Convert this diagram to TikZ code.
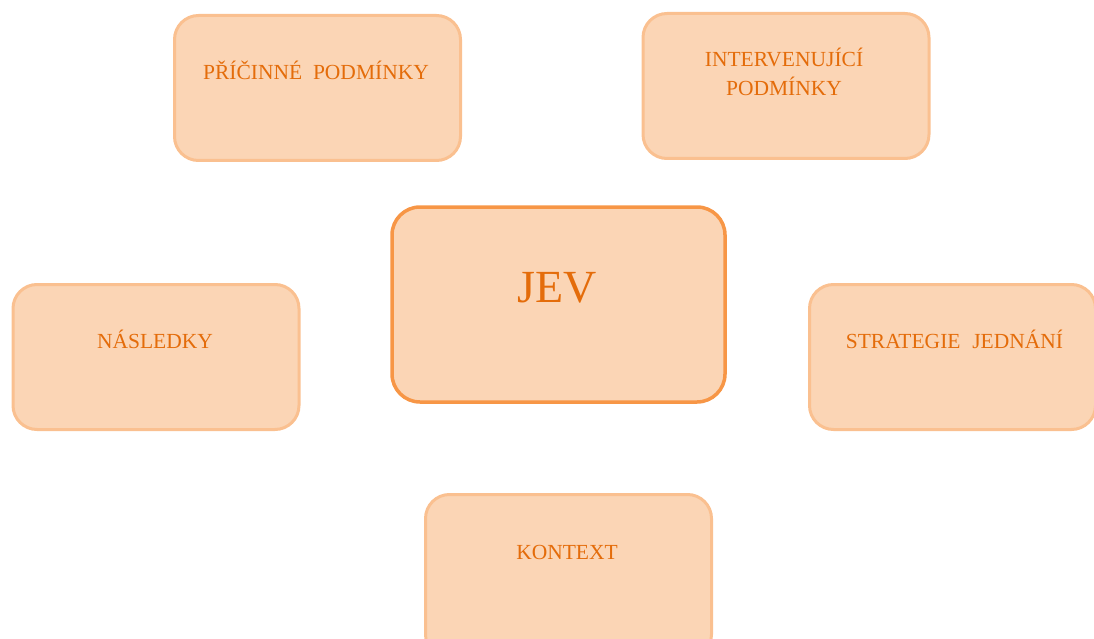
\documentclass[tikz,border=0pt]{standalone}
\usepackage{fontspec}
\setmainfont{Liberation Serif}
\definecolor{boxfill}{HTML}{FBD5B5}
\definecolor{boxline}{HTML}{FAC090}
\definecolor{mainline}{HTML}{F79646}
\definecolor{txt}{HTML}{E46C0A}
\tikzset{
  cbox/.style={draw=boxline, fill=boxfill, line width=3pt, rounded corners=24pt,
    minimum width=286pt, minimum height=145pt, inner sep=0pt},
  mbox/.style={draw=mainline, fill=boxfill, line width=3.5pt, rounded corners=28pt,
    minimum width=333pt, minimum height=195pt, inner sep=0pt},
  ctext/.style={text=txt, font=\fontsize{21.5}{29}\selectfont, anchor=base, inner sep=0pt},
  mtext/.style={text=txt, font=\fontsize{46}{50}\selectfont, anchor=base, inner sep=0pt}
}
\begin{document}
\begin{tikzpicture}[x=1pt,y=-1pt]
\useasboundingbox (0,0) rectangle (1094,639);
\node[cbox] (pricinne) at (317.5,88) {};
\node[cbox] (interv) at (786,86) {};
\node[mbox] (jev) at (558.5,304.5) {};
\node[cbox] (nasledky) at (156,357) {};
\node[cbox] (strategie) at (952.5,357) {};
\node[cbox, minimum height=164pt] (kontext) at (568.5,576.5) {};
\node[ctext] (t1) at (316,80) {PŘÍČINNÉ\hspace{0.5em}PODMÍNKY};
\node[ctext] (t2a) at (784,67) {INTERVENUJÍCÍ};
\node[ctext] (t2b) at (784,96) {PODMÍNKY};
\node[mtext] (t3) at (557,302.5) {JEV};
\node[ctext] (t4) at (155,348) {NÁSLEDKY};
\node[ctext] (t5) at (954.5,348) {STRATEGIE\hspace{0.55em}JEDNÁNÍ};
\node[ctext] (t6) at (567,559) {KONTEXT};
\end{tikzpicture}
\end{document}
